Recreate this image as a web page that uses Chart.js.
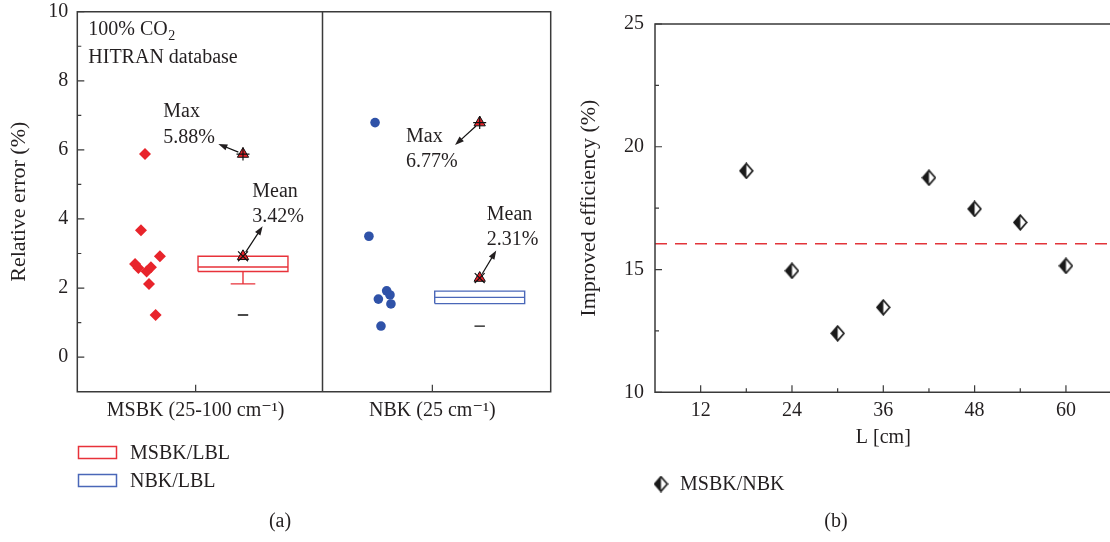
<!DOCTYPE html>
<html><head><meta charset="utf-8">
<script src="https://cdn.jsdelivr.net/npm/chart.js@4.4.1/dist/chart.umd.min.js"></script>
<style>
html,body{margin:0;padding:0;background:#fff;overflow:hidden;width:1110px;height:542px;position:relative;}
#chartA{position:absolute;left:0;top:0;}
#chartB{position:absolute;left:560px;top:0;}
</style></head><body>
<canvas id="chartA" width="560" height="542"></canvas>
<canvas id="chartB" width="570" height="542"></canvas>
<script>
// ---------------- data: panel (a) ----------------
const categoryPositions = [1, 2];
const categoryLabels = ['MSBK (25-100 cm\u207B\u00B9)', 'NBK (25 cm\u207B\u00B9)'];
const msbkValues = [5.88, 3.67, 2.92, 2.70, 2.58, 2.48, 2.60, 2.12, 1.22];
const msbkJitter = [-0.214, -0.231, -0.151, -0.256, -0.242, -0.207, -0.189, -0.197, -0.169];
const nbkValues = [6.79, 3.50, 1.92, 1.68, 1.80, 1.54, 0.90];
const nbkJitter = [-0.242, -0.268, -0.193, -0.228, -0.179, -0.175, -0.217];
const boxQ1 = [2.48, 1.55];
const boxMedian = [2.61, 1.73];
const boxQ3 = [2.92, 1.91];
const whiskerLow = [2.12, 1.55];
const whiskerHigh = [2.92, 1.91];
const boxMean = [2.92, 2.29];
const maxLabels = ['5.88%', '6.77%'];
const meanLabels = ['3.42%', '2.31%'];
const seriesNamesA = ['MSBK/LBL', 'NBK/LBL'];
const leftYTicks = [0, 2, 4, 6, 8, 10];
const leftYMinor = [1, 3, 5, 7, 9];

// ---------------- data: panel (b) ----------------
const lengths = [18, 24, 30, 36, 42, 48, 54, 60];
const improvement = [19.02, 14.95, 12.40, 13.46, 18.74, 17.47, 16.92, 15.15];
const averageLevel = [16.05];
const rightXTicks = [12, 24, 36, 48, 60];
const rightXMinor = [18, 30, 42, 54];
const rightYTicks = [10, 15, 20, 25];
const rightYMinor = [12.5, 17.5, 22.5];
const seriesNameB = 'MSBK/NBK';

// ---------------- styling ----------------
const SERIF = '"Liberation Serif", "DejaVu Serif", serif';
const TXT = '#231f20';
const AX = '#3a3a3a';
const RED = '#e8242b';
const BLUE = '#2f52a8';
const BOXRED = '#e8323a';
const BOXBLUE = '#4a67b8';
const FS = 20;
const BOX_OFFSET = 0.2, BOX_HALF = 0.19, CAP_HALF = 0.052, DASH_HALF = 0.022;

Chart.defaults.font.family = SERIF;
Chart.defaults.color = TXT;

const groups = [msbkValues, nbkValues];

function boxOutline(i) {
  const c = categoryPositions[i] + BOX_OFFSET, w = BOX_HALF, cw = CAP_HALF;
  const gap = {x: c, y: null};
  return [
    {x: c - w, y: boxQ1[i]}, {x: c + w, y: boxQ1[i]}, {x: c + w, y: boxQ3[i]}, {x: c - w, y: boxQ3[i]}, {x: c - w, y: boxQ1[i]}, gap,
    {x: c - w, y: boxMedian[i]}, {x: c + w, y: boxMedian[i]}, gap,
    {x: c, y: boxQ1[i]}, {x: c, y: whiskerLow[i]}, gap,
    {x: c - cw, y: whiskerLow[i]}, {x: c + cw, y: whiskerLow[i]}, gap,
    {x: c, y: boxQ3[i]}, {x: c, y: whiskerHigh[i]}, gap,
    {x: c - cw, y: whiskerHigh[i]}, {x: c + cw, y: whiskerHigh[i]}
  ];
}
function minDashes() {
  const out = [];
  groups.forEach((g, i) => {
    const c = categoryPositions[i] + BOX_OFFSET, m = Math.min(...g);
    out.push({x: c - DASH_HALF, y: m}, {x: c + DASH_HALF, y: m}, {x: c, y: null});
  });
  return out;
}
const maxPoints = groups.map((g, i) => ({x: categoryPositions[i] + BOX_OFFSET, y: Math.max(...g)}));
const meanPoints = boxMean.map((m, i) => ({x: categoryPositions[i] + BOX_OFFSET, y: m}));

// ---------------- frame / inward ticks plugin ----------------
const framePlugin = {
  id: 'frame',
  afterDatasetsDraw(chart, args, o) {
    const {ctx, chartArea: a, scales: {x, y}} = chart;
    ctx.save();
    ctx.strokeStyle = AX;
    ctx.lineWidth = 1.5;
    ctx.beginPath();
    ctx.rect(a.left, a.top, a.right - a.left, a.bottom - a.top);
    (o.dividers || []).forEach(v => {
      const px = Math.round(x.getPixelForValue(v)) + 0.5;
      ctx.moveTo(px, a.top); ctx.lineTo(px, a.bottom);
    });
    ctx.stroke();
    ctx.lineWidth = 1.2;
    ctx.beginPath();
    const yt = (vals, len) => vals.forEach(v => {
      const py = y.getPixelForValue(v);
      ctx.moveTo(a.left, py); ctx.lineTo(a.left + len, py);
    });
    const xt = (vals, len) => vals.forEach(v => {
      const px = x.getPixelForValue(v);
      ctx.moveTo(px, a.bottom); ctx.lineTo(px, a.bottom - len);
    });
    yt(o.yMajor || [], 7); yt(o.yMinor || [], 4);
    xt(o.xMajor || [], 7); xt(o.xMinor || [], 4);
    ctx.stroke();
    ctx.restore();
  }
};

// ---------------- annotations for panel (a) ----------------
const annotationsA = [
  {lines: ['Max', maxLabels[0]], tx: 0.863, ty: 6.95, from: () => maxPoints[0], to: {x: 1.096, y: 6.17}},
  {lines: ['Mean', meanLabels[0]], tx: 1.239, ty: 4.64, from: () => meanPoints[0], to: {x: 1.283, y: 3.79}},
  {lines: ['Max', maxLabels[1]], tx: 1.889, ty: 6.23, from: () => maxPoints[1], to: {x: 2.096, y: 6.14}},
  {lines: ['Mean', meanLabels[1]], tx: 2.230, ty: 3.98, from: () => meanPoints[1], to: {x: 2.270, y: 3.09}}
];

function arrow(ctx, x0, y0, x1, y1) {
  const ang = Math.atan2(y1 - y0, x1 - x0), L = 9, W = 3.2;
  ctx.beginPath(); ctx.moveTo(x0, y0); ctx.lineTo(x1 - Math.cos(ang) * 4, y1 - Math.sin(ang) * 4); ctx.stroke();
  ctx.beginPath();
  ctx.moveTo(x1, y1);
  ctx.lineTo(x1 - L * Math.cos(ang) + W * Math.sin(ang), y1 - L * Math.sin(ang) - W * Math.cos(ang));
  ctx.lineTo(x1 - L * Math.cos(ang) - W * Math.sin(ang), y1 - L * Math.sin(ang) + W * Math.cos(ang));
  ctx.closePath(); ctx.fill();
}

const annotPluginA = {
  id: 'annotA',
  afterDraw(chart) {
    const {ctx, chartArea: a, scales: {x, y}} = chart;
    ctx.save();
    ctx.fillStyle = TXT; ctx.strokeStyle = '#111'; ctx.lineWidth = 1.2;
    ctx.font = FS + 'px ' + SERIF;
    ctx.textBaseline = 'alphabetic'; ctx.textAlign = 'left';
    annotationsA.forEach(an => {
      const px = x.getPixelForValue(an.tx);
      const py = y.getPixelForValue(an.ty);
      an.lines.forEach((t, k) => ctx.fillText(t, px, py + k * 25.5));
      const f = an.from();
      const fx = x.getPixelForValue(f.x), fy = y.getPixelForValue(f.y);
      const tx = x.getPixelForValue(an.to.x), ty = y.getPixelForValue(an.to.y);
      const ang = Math.atan2(ty - fy, tx - fx);
      arrow(ctx, fx + Math.cos(ang) * 5, fy + Math.sin(ang) * 5, tx, ty);
    });
    // corner text
    const lx = a.left + 11;
    ctx.fillText('100% CO', lx, a.top + 23.5);
    const w = ctx.measureText('100% CO').width;
    ctx.font = '14px ' + SERIF;
    ctx.fillText('2', lx + w + 0.5, a.top + 28);
    ctx.font = FS + 'px ' + SERIF;
    ctx.fillText('HITRAN database', lx, a.top + 51.5);
    // legend
    const colors = [BOXRED, BOXBLUE];
    seriesNamesA.forEach((n, i) => {
      const cy = 452.5 + i * 28;
      ctx.strokeStyle = colors[i]; ctx.lineWidth = 1.5;
      ctx.strokeRect(78.5, cy - 6, 38, 12);
      ctx.fillStyle = TXT; ctx.textBaseline = 'middle';
      ctx.fillText(n, 130, cy + 1);
    });
    ctx.textAlign = 'center';
    ctx.fillText('(a)', 280, 522);
    ctx.restore();
  }
};

// ---------------- chart (a) ----------------
new Chart(document.getElementById('chartA'), {
  type: 'line',
  data: {
    datasets: [
      {label: 'max-cross', data: maxPoints, showLine: false, pointStyle: 'cross', pointRadius: 6.5, borderColor: '#111', borderWidth: 1.2, order: 0},
      {label: 'max', data: maxPoints, showLine: false, pointStyle: 'triangle', pointRadius: 6.5, backgroundColor: RED, borderColor: '#111', borderWidth: 1, order: 1},
      {label: 'mean-cross', data: meanPoints, showLine: false, pointStyle: 'crossRot', pointRadius: 7, borderColor: '#111', borderWidth: 1.2, order: 0},
      {label: 'mean', data: meanPoints, showLine: false, pointStyle: 'triangle', pointRadius: 6.5, backgroundColor: RED, borderColor: '#111', borderWidth: 1, order: 1},
      {label: 'min', data: minDashes(), borderColor: '#111', borderWidth: 1.3, pointRadius: 0, spanGaps: false, order: 2},
      {label: seriesNamesA[0], data: boxOutline(0), borderColor: BOXRED, borderWidth: 1.4, pointRadius: 0, spanGaps: false, order: 3},
      {label: seriesNamesA[1], data: boxOutline(1), borderColor: BOXBLUE, borderWidth: 1.4, pointRadius: 0, spanGaps: false, order: 3},
      {label: 'MSBK points', data: msbkValues.map((v, i) => ({x: categoryPositions[0] + msbkJitter[i], y: v})), showLine: false,
        pointStyle: 'rectRot', pointRadius: 6, backgroundColor: RED, borderColor: RED, borderWidth: 0, order: 4},
      {label: 'NBK points', data: nbkValues.map((v, i) => ({x: categoryPositions[1] + nbkJitter[i], y: v})), showLine: false,
        pointStyle: 'circle', pointRadius: 4.8, backgroundColor: BLUE, borderColor: BLUE, borderWidth: 0, order: 4}
    ]
  },
  options: {
    responsive: false, animation: false, devicePixelRatio: 1,
    layout: {padding: {left: 0, right: 9.3, top: 11.7, bottom: 110.3}},
    plugins: {legend: {display: false}, tooltip: {enabled: false},
      frame: {dividers: [1.534], yMajor: leftYTicks, yMinor: leftYMinor, xMajor: categoryPositions}},
    scales: {
      x: {type: 'linear', min: 0.5, max: 2.5,
        afterBuildTicks: s => { s.ticks = categoryPositions.map(v => ({value: v})); },
        afterFit: s => { s.height = 40; s.paddingLeft = 0; s.paddingRight = 0; },
        grid: {display: false, drawTicks: false}, border: {display: false},
        ticks: {padding: 7, color: TXT, font: {size: FS}, maxRotation: 0, autoSkip: false,
          callback: v => categoryLabels[categoryPositions.indexOf(v)]}},
      y: {type: 'linear', min: -1, max: 10,
        afterBuildTicks: s => { s.ticks = leftYTicks.map(v => ({value: v})); },
        afterFit: s => { s.width = 77.3; s.paddingTop = 0; s.paddingBottom = 0; },
        grid: {display: false, drawTicks: false}, border: {display: false},
        ticks: {padding: 9, color: TXT, font: {size: FS}},
        title: {display: true, text: 'Relative error (%)', color: TXT, font: {size: 22}, padding: {top: 6, bottom: 0}}}
    }
  },
  plugins: [framePlugin, annotPluginA]
});

// ---------------- chart (b) ----------------
function halfDiamond(w, h) {
  const c = document.createElement('canvas'); c.width = w; c.height = h;
  const g = c.getContext('2d');
  const cx = w / 2, cy = h / 2, rx = w / 2 - 1.2, ry = h / 2 - 1.2;
  g.fillStyle = '#ffffff';
  g.beginPath(); g.moveTo(cx, cy - ry); g.lineTo(cx + rx, cy); g.lineTo(cx, cy + ry); g.lineTo(cx - rx, cy); g.closePath(); g.fill();
  g.fillStyle = '#1a1a1a';
  g.beginPath(); g.moveTo(cx, cy - ry); g.lineTo(cx - rx, cy); g.lineTo(cx, cy + ry); g.closePath(); g.fill();
  g.strokeStyle = '#1a1a1a'; g.lineWidth = 1.7;
  g.beginPath(); g.moveTo(cx, cy - ry); g.lineTo(cx + rx, cy); g.lineTo(cx, cy + ry); g.lineTo(cx - rx, cy); g.closePath(); g.stroke();
  return c;
}
const diamondImg = halfDiamond(15, 17);

const annotPluginB = {
  id: 'annotB',
  afterDraw(chart) {
    const {ctx} = chart;
    ctx.save();
    ctx.drawImage(diamondImg, 101 - 7.5, 484 - 8.5);
    ctx.fillStyle = TXT; ctx.font = FS + 'px ' + SERIF; ctx.textBaseline = 'middle'; ctx.textAlign = 'left';
    ctx.fillText(seriesNameB, 120, 485);
    ctx.textAlign = 'center';
    ctx.fillText('(b)', 276, 522);
    ctx.restore();
  }
};

new Chart(document.getElementById('chartB'), {
  type: 'line',
  data: {
    datasets: [
      {label: seriesNameB, data: lengths.map((l, i) => ({x: l, y: improvement[i]})), showLine: false,
        pointStyle: diamondImg, pointRadius: 8, order: 0},
      {label: 'average', data: [{x: 6, y: averageLevel[0]}, {x: 66, y: averageLevel[0]}], borderColor: '#e2343a', borderWidth: 1.3,
        borderDash: [12, 8], pointRadius: 0, order: 1}
    ]
  },
  options: {
    responsive: false, animation: false, devicePixelRatio: 1,
    layout: {padding: {left: 0, right: 18.4, top: 24, bottom: 89.7}},
    plugins: {legend: {display: false}, tooltip: {enabled: false},
      frame: {yMajor: rightYTicks, yMinor: rightYMinor, xMajor: rightXTicks, xMinor: rightXMinor}},
    scales: {
      x: {type: 'linear', min: 6, max: 66,
        afterBuildTicks: s => { s.ticks = rightXTicks.map(v => ({value: v})); },
        afterFit: s => { s.height = 60; s.paddingLeft = 0; s.paddingRight = 0; },
        grid: {display: false, drawTicks: false}, border: {display: false},
        ticks: {padding: 6, color: TXT, font: {size: FS}, maxRotation: 0, autoSkip: false},
        title: {display: true, text: 'L [cm]', color: TXT, font: {size: FS}, padding: {top: 0, bottom: 3}}},
      y: {type: 'linear', min: 10, max: 25,
        afterBuildTicks: s => { s.ticks = rightYTicks.map(v => ({value: v})); },
        afterFit: s => { s.width = 95; s.paddingTop = 0; s.paddingBottom = 0; },
        grid: {display: false, drawTicks: false}, border: {display: false},
        ticks: {padding: 11, color: TXT, font: {size: FS}},
        title: {display: true, text: 'Improved efficiency (%)', color: TXT, font: {size: 22}, padding: {top: 16, bottom: 0}}}
    }
  },
  plugins: [framePlugin, annotPluginB]
});
</script>
</body></html>
